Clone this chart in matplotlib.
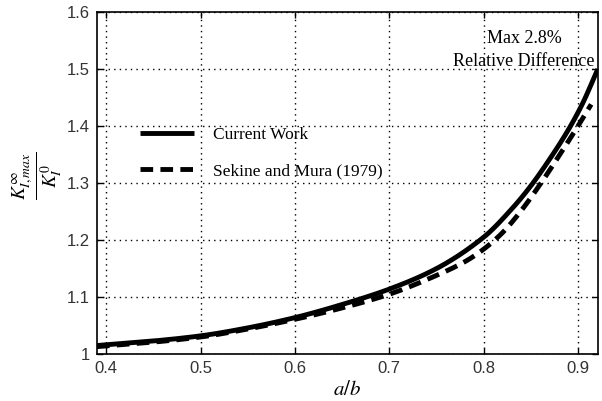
import numpy as np
import matplotlib
matplotlib.use("Agg")
import matplotlib.pyplot as plt

# Data
x_current = [0.39, 0.45, 0.50, 0.55, 0.60, 0.65, 0.70, 0.75, 0.80, 0.83, 0.85, 0.87, 0.89, 0.905, 0.921]
y_current = [1.015, 1.023, 1.032, 1.046, 1.064, 1.087, 1.114, 1.150, 1.205, 1.255, 1.295, 1.342, 1.394, 1.440, 1.500]

x_sekine = [0.39, 0.45, 0.50, 0.55, 0.60, 0.65, 0.70, 0.75, 0.78, 0.80, 0.82, 0.84, 0.86, 0.88, 0.90, 0.914]
y_sekine = [1.013, 1.021, 1.030, 1.044, 1.061, 1.081, 1.105, 1.138, 1.162, 1.184, 1.213, 1.252, 1.298, 1.348, 1.400, 1.438]

xticks = [0.4, 0.5, 0.6, 0.7, 0.8, 0.9]
yticks = [1.0, 1.1, 1.2, 1.3, 1.4, 1.5, 1.6]
ytick_labels = ["1", "1.1", "1.2", "1.3", "1.4", "1.5", "1.6"]

plt.rcParams['mathtext.fontset'] = 'stix'

fig = plt.figure(figsize=(6.02, 4.01), dpi=100)
ax = fig.add_axes([0.161, 0.117, 0.832, 0.853])

def smooth(xs, ys):
    xs = np.asarray(xs); ys = np.asarray(ys)
    xf = np.linspace(xs[0], xs[-1], 300)
    h = np.diff(xs); d = np.diff(ys) / h
    m = np.zeros_like(ys)
    m[1:-1] = np.where(d[:-1] * d[1:] > 0, 2 / (1 / d[:-1] + 1 / d[1:]), 0)
    m[0] = d[0]; m[-1] = d[-1]
    idx = np.clip(np.searchsorted(xs, xf) - 1, 0, len(h) - 1)
    t = (xf - xs[idx]) / h[idx]
    h00 = 2*t**3 - 3*t**2 + 1; h10 = t**3 - 2*t**2 + t
    h01 = -2*t**3 + 3*t**2; h11 = t**3 - t**2
    yf = h00*ys[idx] + h10*h[idx]*m[idx] + h01*ys[idx+1] + h11*h[idx]*m[idx+1]
    return xf, yf

xc, yc = smooth(x_current, y_current)
xs_, ys_ = smooth(x_sekine, y_sekine)

ax.plot(xc, yc, color='black', lw=3.5, solid_capstyle='butt', label='Current Work')
ax.plot(xs_, ys_, color='black', lw=3.5, dashes=(2.6, 1.5), dash_capstyle='butt',
        label='Sekine and Mura (1979)')

ax.set_xlim(0.39, 0.921)
ax.set_ylim(1.0, 1.6)
ax.set_xticks(xticks)
ax.set_xticklabels([f"{v:.1f}" for v in xticks])
ax.set_yticks(yticks)
ax.set_yticklabels(ytick_labels)
ax.tick_params(direction='in', top=True, right=True, length=4, width=1,
               labelsize=12, pad=5)
for lab in ax.get_xticklabels() + ax.get_yticklabels():
    lab.set_family('Liberation Sans')
    lab.set_color('#333333')
ax.grid(True, color='black', linestyle=(0, (1, 3)), linewidth=1)
for s in ax.spines.values():
    s.set_linewidth(1.2)

leg = ax.legend(loc='upper left', bbox_to_anchor=(0.055, 0.71), frameon=False,
                prop={'family': 'Liberation Serif', 'size': 12.5},
                handlelength=3.1, labelspacing=1.15, handletextpad=1.1)

ax.text(0.843, 1.553, "Max 2.8%", family='Liberation Serif', fontsize=13,
        ha='center', va='center')
ax.text(0.843, 1.514, "Relative Difference", family='Liberation Serif', fontsize=13,
        ha='center', va='center')

ax.set_xlabel(r'$a/b$', fontsize=15, labelpad=2)
ax.set_ylabel(r'$\frac{K^{\infty}_{I,max}}{K^{0}_{I}}$', fontsize=20)
ax.yaxis.label.set_va('center')
ax.yaxis.set_label_coords(-0.12, 0.52)

fig.savefig("out.png", dpi=100)
